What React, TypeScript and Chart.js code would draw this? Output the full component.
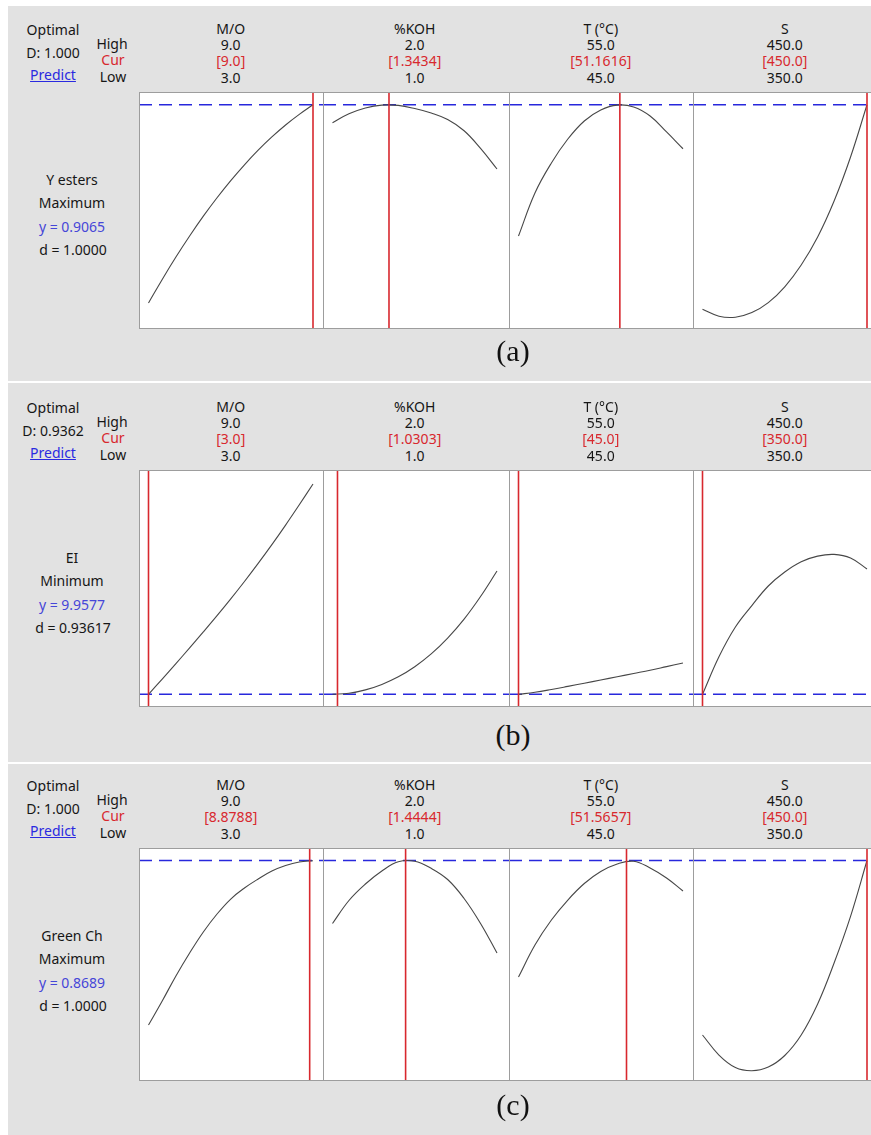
import { useEffect, useRef } from "react";
import { Chart, registerables } from "chart.js";

Chart.register(...registerables);

// Factor definitions shared by every response row
const factorNames = ["M/O", "%KOH", "T (°C)", "S"];
const factorLow = [3, 1, 45, 350];
const factorHigh = [9, 2, 55, 450];
const highText = ["9.0", "2.0", "55.0", "450.0"];
const lowText = ["3.0", "1.0", "45.0", "350.0"];

// Factor grids at which each response profile is evaluated
const moGrid = [3, 3.5, 4, 4.5, 5, 5.5, 6, 6.5, 7, 7.5, 8, 8.5, 9];
const kohGrid = [1.0, 1.1, 1.2, 1.3, 1.4, 1.5, 1.6, 1.7, 1.8, 1.9, 2.0];
const tempGrid = [45, 46, 47, 48, 49, 50, 51, 52, 53, 54, 55];
const sGrid = [350, 360, 370, 380, 390, 400, 410, 420, 430, 440, 450];

// (a) Y esters — maximise
const estersCur = [9.0, 1.3434, 51.1616, 450.0];
const estersCurText = ["[9.0]", "[1.3434]", "[51.1616]", "[450.0]"];
const estersMO = [0.5887, 0.6265, 0.6624, 0.6961, 0.7279, 0.7574, 0.7849, 0.8103, 0.8337, 0.8549, 0.8741, 0.8911, 0.9065];
const estersKOH = [0.8778, 0.8921, 0.9014, 0.906, 0.9055, 0.9005, 0.8933, 0.8829, 0.8649, 0.8366, 0.8035];
const estersT = [0.6961, 0.7651, 0.8132, 0.8516, 0.8805, 0.8981, 0.906, 0.903, 0.8885, 0.8629, 0.836];
const estersS = [0.5786, 0.5675, 0.5659, 0.5733, 0.5893, 0.6147, 0.6496, 0.6945, 0.7522, 0.8228, 0.9065];
const estersRange = [0.547, 0.927];
const estersY = 0.9065;

// (b) EI — minimise
const eiCur = [3.0, 1.0303, 45.0, 350.0];
const eiCurText = ["[3.0]", "[1.0303]", "[45.0]", "[350.0]"];
const eiMO = [9.9577, 10.4733, 10.9957, 11.5248, 12.064, 12.6134, 13.1796, 13.7661, 14.3762, 15.01, 15.6708, 16.3552, 17.0565];
const eiKOH = [9.96, 9.9924, 10.1072, 10.2929, 10.5494, 10.8903, 11.3224, 11.8557, 12.4971, 13.2599, 14.1207];
const eiT = [9.9577, 10.0262, 10.1207, 10.2254, 10.3334, 10.4414, 10.5494, 10.6608, 10.7722, 10.8937, 11.0152];
const eiS = [9.9577, 11.2245, 12.2304, 12.9528, 13.6144, 14.0869, 14.4346, 14.6236, 14.681, 14.5595, 14.1882];
const eiRange = [9.53, 17.53];
const eiY = 9.9577;

// (c) Green Ch — maximise
const greenCur = [8.8788, 1.4444, 51.5657, 450.0];
const greenCurText = ["[8.8788]", "[1.4444]", "[51.5657]", "[450.0]"];
const greenMO = [0.5865, 0.6277, 0.6707, 0.7101, 0.7462, 0.7771, 0.8028, 0.8217, 0.8372, 0.8509, 0.8604, 0.8664, 0.8686];
const greenKOH = [0.7608, 0.8003, 0.8286, 0.8509, 0.8667, 0.8677, 0.8555, 0.8363, 0.8037, 0.7608, 0.7101];
const greenT = [0.6689, 0.7239, 0.7668, 0.8011, 0.8294, 0.85, 0.8629, 0.8677, 0.8561, 0.8389, 0.8166];
const greenS = [0.5694, 0.535, 0.5136, 0.5081, 0.5144, 0.5342, 0.5694, 0.6226, 0.693, 0.7731, 0.8689];
const greenRange = [0.4904, 0.8904];
const greenY = 0.8689;

const grids = [moGrid, kohGrid, tempGrid, sGrid];

const rows = [
  {
    letter: "(a)", composite: "D: 1.000", name: "Y esters", goal: "Maximum",
    yText: "y = 0.9065", dText: "d = 1.0000",
    cur: estersCur, curText: estersCurText, curves: [estersMO, estersKOH, estersT, estersS],
    range: estersRange, target: estersY,
  },
  {
    letter: "(b)", composite: "D: 0.9362", name: "EI", goal: "Minimum",
    yText: "y = 9.9577", dText: "d = 0.93617",
    cur: eiCur, curText: eiCurText, curves: [eiMO, eiKOH, eiT, eiS],
    range: eiRange, target: eiY,
  },
  {
    letter: "(c)", composite: "D: 1.000", name: "Green Ch", goal: "Maximum",
    yText: "y = 0.8689", dText: "d = 1.0000",
    cur: greenCur, curText: greenCurText, curves: [greenMO, greenKOH, greenT, greenS],
    range: greenRange, target: greenY,
  },
];

// Page layout (pixels)
const layout = [
  { panelTop: 6, panelH: 375, boxTop: 92, boxH: 237, letterY: 351 },
  { panelTop: 383, panelH: 379, boxTop: 470, boxH: 237, letterY: 735 },
  { panelTop: 764, panelH: 371, boxTop: 848, boxH: 233, letterY: 1105 },
];
const boxLeft = [139, 323, 509, 693];
const boxWidth = [185, 187, 185, 185];
const INSET = 9.5;
const DATA_W = 164.5;

const FONT = '"Noto Sans", "Open Sans", sans-serif';
const INK = "#161616";
const RED = "#d8282e";
const BLUE_TEXT = "#4646d8";

const framePlugin = {
  id: "frame",
  beforeDraw(chart: any) {
    const { ctx, chartArea: a } = chart;
    ctx.save();
    ctx.fillStyle = "#ffffff";
    ctx.fillRect(a.left, a.top, a.right - a.left, a.bottom - a.top);
    ctx.restore();
  },
  afterDraw(chart: any) {
    const { ctx, chartArea: a } = chart;
    ctx.save();
    ctx.strokeStyle = "#9d9d9d";
    ctx.lineWidth = 1;
    ctx.strokeRect(a.left + 0.5, a.top + 0.5, a.right - a.left - 1, a.bottom - a.top - 1);
    ctx.restore();
  },
};

type ProfileProps = {
  xs: number[]; ys: number[]; lo: number; hi: number; cur: number;
  yMin: number; yMax: number; target: number;
  left: number; top: number; width: number; height: number;
};

function Profile(p: ProfileProps) {
  const ref = useRef<HTMLCanvasElement | null>(null);
  useEffect(() => {
    if (!ref.current) return;
    const unit = DATA_W / (p.hi - p.lo);
    const xMin = p.lo - INSET / unit;
    const xMax = xMin + p.width / unit;
    const chart = new Chart(ref.current, {
      type: "line",
      data: {
        datasets: [
          {
            data: [{ x: p.cur, y: p.yMin }, { x: p.cur, y: p.yMax }],
            borderColor: RED, borderWidth: 1.6, pointRadius: 0,
          },
          {
            data: p.xs.map((x, i) => ({ x, y: p.ys[i] })),
            borderColor: "#474747", borderWidth: 1.1, pointRadius: 0,
            tension: 0.4,
          },
          {
            data: [{ x: xMin, y: p.target }, { x: xMax, y: p.target }],
            borderColor: "#2828dc", borderWidth: 1.5, borderDash: [13, 7], pointRadius: 0,
          },
        ],
      },
      options: {
        animation: false,
        responsive: false,
        devicePixelRatio: 1,
        events: [],
        layout: { padding: 0 },
        plugins: { legend: { display: false }, tooltip: { enabled: false } },
        scales: {
          x: { type: "linear", display: false, min: xMin, max: xMax },
          y: { type: "linear", display: false, min: p.yMin, max: p.yMax },
        },
      } as any,
      plugins: [framePlugin],
    });
    return () => chart.destroy();
  }, []);
  return (
    <canvas
      ref={ref}
      width={p.width}
      height={p.height}
      style={{ position: "absolute", left: p.left, top: p.top, width: p.width, height: p.height }}
    />
  );
}

function Label(props: { x: number; y: number; text: string; color?: string; size?: number; family?: string; underline?: boolean }) {
  return (
    <div
      style={{
        position: "absolute",
        left: props.x,
        top: props.y,
        transform: "translate(-50%, -50%)",
        whiteSpace: "nowrap",
        fontFamily: props.family || FONT,
        fontSize: props.size || 14,
        lineHeight: 1,
        color: props.color || INK,
        textDecoration: props.underline ? "underline" : "none",
      }}
    >
      {props.text}
    </div>
  );
}

export default function App() {
  document.body.style.margin = "0";

  return (
    <div style={{ position: "relative", width: 871, height: 1135, overflow: "hidden", background: "#ffffff" }}>
      {rows.map((row, r) => {
        const L = layout[r];
        const bt = L.boxTop;
        return (
          <div key={r}>
            <div
              style={{
                position: "absolute", left: 8, top: L.panelTop, width: 863, height: L.panelH,
                background: "#e2e2e2",
              }}
            />
            <Label x={53} y={bt - 62} text="Optimal" />
            <Label x={53} y={bt - 39} text={row.composite} />
            <Label x={53} y={bt - 17} text="Predict" color="#2a2ae0" underline />
            <Label x={112} y={bt - 48} text="High" />
            <Label x={113} y={bt - 32} text="Cur" color={RED} />
            <Label x={113} y={bt - 15} text="Low" />
            <Label x={72} y={bt + 88} text={row.name} />
            <Label x={72} y={bt + 111} text={row.goal} />
            <Label x={72} y={bt + 135} text={row.yText} color={BLUE_TEXT} />
            <Label x={73} y={bt + 158} text={row.dText} />
            {factorNames.map((f, i) => {
              const cx = boxLeft[i] + INSET + DATA_W / 2;
              return (
                <div key={f}>
                  <Label x={cx} y={bt - 63} text={f} />
                  <Label x={cx} y={bt - 47} text={highText[i]} />
                  <Label x={cx} y={bt - 31} text={row.curText[i]} color={RED} />
                  <Label x={cx} y={bt - 14} text={lowText[i]} />
                  <Profile
                    xs={grids[i]}
                    ys={row.curves[i]}
                    lo={factorLow[i]}
                    hi={factorHigh[i]}
                    cur={row.cur[i]}
                    yMin={row.range[0]}
                    yMax={row.range[1]}
                    target={row.target}
                    left={boxLeft[i]}
                    top={bt}
                    width={boxWidth[i]}
                    height={L.boxH}
                  />
                </div>
              );
            })}
            <Label x={513} y={L.letterY} text={row.letter} size={30} family='"Liberation Serif", "Times New Roman", serif' color="#111" />
          </div>
        );
      })}
    </div>
  );
}
